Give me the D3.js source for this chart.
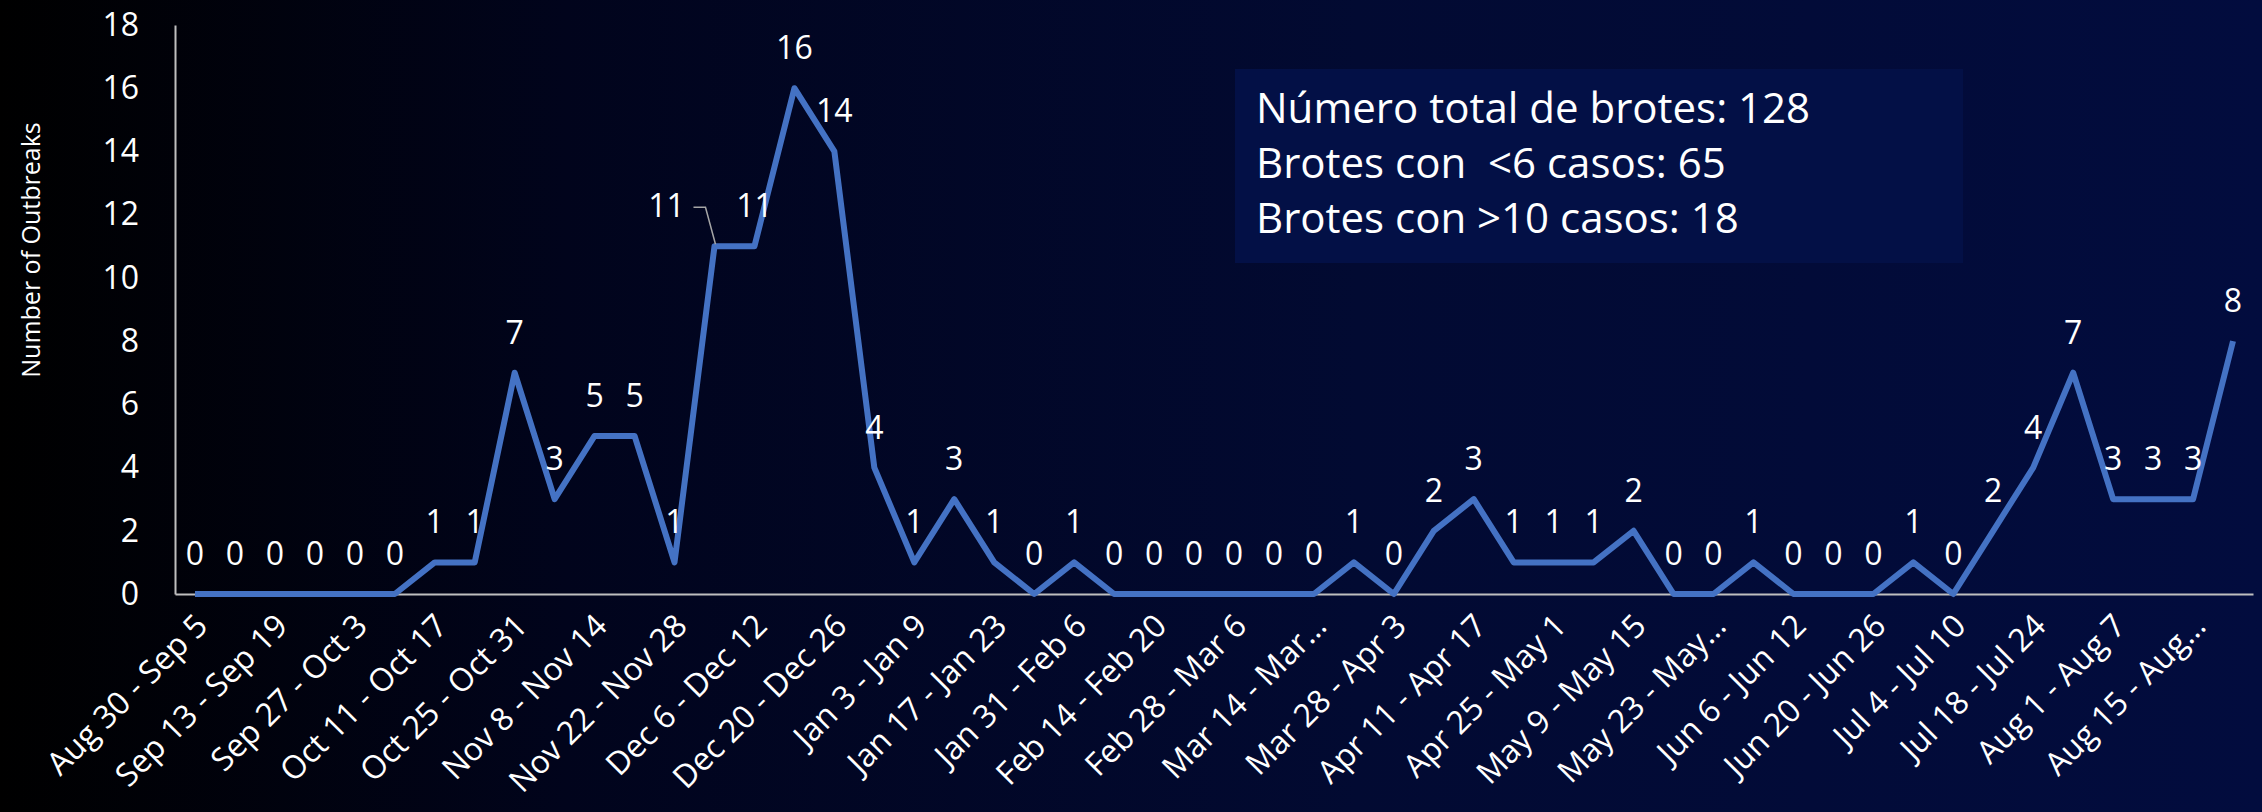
<!DOCTYPE html>
<html lang="es">
<head>
<meta charset="utf-8">
<title>Outbreaks per week</title>
<script src="https://d3js.org/d3.v7.min.js"></script>
<style>
  body { margin: 0; background: #000; }
  svg text { font-family: "Open Sans", sans-serif; fill: #fff; white-space: pre; }
</style>
</head>
<body>
<svg id="chart" width="2262" height="812"></svg>
<script>
// weekly data
var weeks = [
  "Aug 30 - Sep 5", "Sep 6 - Sep 12", "Sep 13 - Sep 19", "Sep 20 - Sep 26",
  "Sep 27 - Oct 3", "Oct 4 - Oct 10", "Oct 11 - Oct 17", "Oct 18 - Oct 24",
  "Oct 25 - Oct 31", "Nov 1 - Nov 7", "Nov 8 - Nov 14", "Nov 15 - Nov 21",
  "Nov 22 - Nov 28", "Nov 29 - Dec 5", "Dec 6 - Dec 12", "Dec 13 - Dec 19",
  "Dec 20 - Dec 26", "Dec 27 - Jan 2", "Jan 3 - Jan 9", "Jan 10 - Jan 16",
  "Jan 17 - Jan 23", "Jan 24 - Jan 30", "Jan 31 - Feb 6", "Feb 7 - Feb 13",
  "Feb 14 - Feb 20", "Feb 21 - Feb 27", "Feb 28 - Mar 6", "Mar 7 - Mar 13",
  "Mar 14 - Mar 20", "Mar 21 - Mar 27", "Mar 28 - Apr 3", "Apr 4 - Apr 10",
  "Apr 11 - Apr 17", "Apr 18 - Apr 24", "Apr 25 - May 1", "May 2 - May 8",
  "May 9 - May 15", "May 16 - May 22", "May 23 - May 29", "May 30 - Jun 5",
  "Jun 6 - Jun 12", "Jun 13 - Jun 19", "Jun 20 - Jun 26", "Jun 27 - Jul 3",
  "Jul 4 - Jul 10", "Jul 11 - Jul 17", "Jul 18 - Jul 24", "Jul 25 - Jul 31",
  "Aug 1 - Aug 7", "Aug 8 - Aug 14", "Aug 15 - Aug 21", "Aug 22 - Aug 28"
]
var outbreaks = [
  0, 0, 0, 0, 0, 0, 1, 1, 7, 3, 5, 5, 1, 11, 11, 16, 14, 4, 1, 3, 1, 0, 1, 0, 0, 0,
  0, 0, 0, 1, 0, 2, 3, 1, 1, 1, 2, 0, 0, 1, 0, 0, 0, 1, 0, 2, 4, 7, 3, 3, 3, 8
]
// labels that the original axis cut short
var shortLabels = {
  "Mar 14 - Mar 20": "Mar 14 - Mar\u2026",
  "May 23 - May 29": "May 23 - May\u2026",
  "Aug 15 - Aug 21": "Aug 15 - Aug\u2026"
}
var yTicks = [0, 2, 4, 6, 8, 10, 12, 14, 16, 18]
var yTitle = "Number of Outbreaks"
var infoLines = [
  "N\u00famero total de brotes: 128",
  "Brotes con  <6 casos: 65",
  "Brotes con >10 casos: 18"
]

var W = 2262, H = 812
var svg = d3.select("#chart")

// background gradient, black on the left to navy on the right
var defs = svg.append("defs")
var grad = defs.append("linearGradient").attr("id", "bg")
  .attr("x1", "0").attr("y1", "0").attr("x2", "1").attr("y2", "0")
grad.append("stop").attr("offset", "0").attr("stop-color", "#000000")
grad.append("stop").attr("offset", "0.25").attr("stop-color", "#01041c")
grad.append("stop").attr("offset", "0.6").attr("stop-color", "#020a32")
grad.append("stop").attr("offset", "1").attr("stop-color", "#020c3e")
svg.append("rect").attr("width", W).attr("height", H).attr("fill", "url(#bg)")

var x = d3.scalePoint().domain(weeks).range([175, 2253]).padding(0.5)
var y = d3.scaleLinear().domain([0, 18]).range([594, 25])

// info box
var box = svg.append("g")
box.append("rect")
  .attr("x", 1235).attr("y", 69).attr("width", 728).attr("height", 194)
  .attr("fill", "#031046")
box.selectAll("text").data(infoLines).enter().append("text")
  .attr("x", 1256)
  .attr("y", (d, i) => 123 + i * 55)
  .attr("font-size", 42)
  .text(d => d)

// axes
var yAxis = svg.append("g")
  .attr("transform", "translate(175,0)")
  .call(d3.axisLeft(y).tickValues(yTicks).tickSize(0).tickPadding(36))
yAxis.select(".domain").attr("stroke", "#bfbfbf").attr("stroke-width", 2)
yAxis.selectAll("text").attr("font-size", 32).attr("fill", "#fff")
  .attr("font-family", "Open Sans")

var xAxis = svg.append("g")
  .attr("transform", "translate(0,594)")
  .call(d3.axisBottom(x)
    .tickValues(weeks.filter((d, i) => i % 2 === 0))
    .tickSize(0)
    .tickFormat(d => shortLabels[d] || d))
xAxis.select(".domain").attr("stroke", "#bfbfbf").attr("stroke-width", 2)
xAxis.selectAll("text")
  .attr("font-size", 32).attr("fill", "#fff").attr("font-family", "Open Sans")
  .attr("text-anchor", "end")
  .attr("x", 0).attr("y", 0).attr("dy", "0.35em")
  .attr("transform", "translate(6,26) rotate(-45)")

// y axis title
svg.append("text")
  .attr("transform", "translate(40,250) rotate(-90)")
  .attr("text-anchor", "middle")
  .attr("font-size", 25)
  .attr("font-weight", 500)
  .text(yTitle)

// line
var line = d3.line()
  .x((d, i) => x(weeks[i]))
  .y(d => y(d))
svg.append("path")
  .datum(outbreaks)
  .attr("d", line)
  .attr("fill", "none")
  .attr("stroke", "#4472c4")
  .attr("stroke-width", 6)
  .attr("stroke-linejoin", "round")

// data labels (one label was dragged aside with a leader line)
var moved = 13
svg.append("path")
  .attr("d", "M" + (x(weeks[moved]) - 21) + "," + (y(outbreaks[moved]) - 39)
    + "h12L" + (x(weeks[moved]) + 1) + "," + (y(outbreaks[moved]) - 2))
  .attr("fill", "none").attr("stroke", "#a6a6a6").attr("stroke-width", 1.5)

svg.append("g").selectAll("text")
  .data(outbreaks).enter().append("text")
  .attr("x", (d, i) => x(weeks[i]) + (i === moved ? -48 : 0))
  .attr("y", d => y(d) - 29)
  .attr("text-anchor", "middle")
  .attr("font-size", 32)
  .text(d => d)
</script>
</body>
</html>
